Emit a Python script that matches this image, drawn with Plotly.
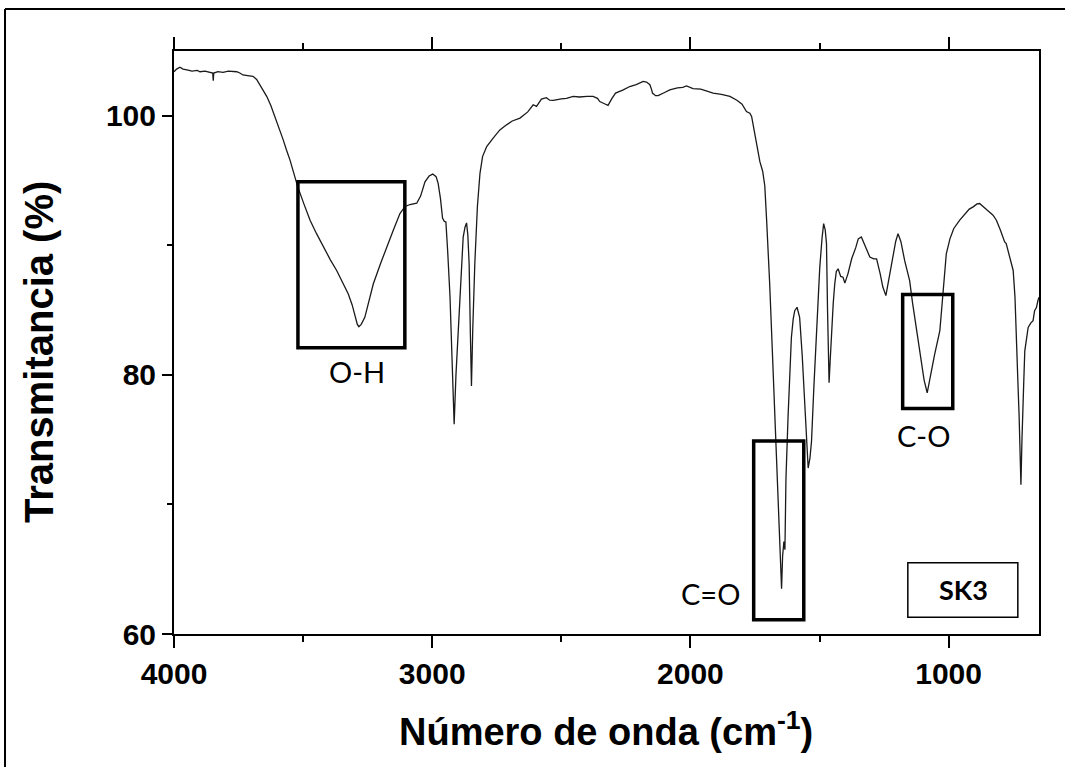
import plotly.graph_objects as go

# ---------------- data ----------------
wavenumber = [
    4000, 3990, 3977, 3965, 3950, 3930, 3910, 3899, 3880, 3860, 3850, 3848, 3846, 3830, 3810,
    3790, 3770, 3757, 3745, 3733, 3715, 3694, 3680, 3667, 3655, 3641, 3625, 3609, 3595, 3577,
    3565, 3551, 3535, 3521, 3497, 3473, 3448, 3422, 3395, 3370, 3345, 3325, 3310, 3299, 3290,
    3284, 3275, 3261, 3245, 3228, 3200, 3177, 3150, 3125, 3105, 3086, 3060, 3045, 3028, 3012,
    2998, 2985, 2977, 2968, 2960, 2953, 2947, 2940, 2931, 2922, 2915, 2908, 2899, 2890, 2880,
    2873, 2867, 2862, 2857, 2852, 2848, 2843, 2835, 2825, 2815, 2805, 2789, 2764, 2738, 2712,
    2690, 2660, 2630, 2609, 2596, 2577, 2565, 2558, 2545, 2531, 2500, 2480, 2454, 2430, 2400,
    2377, 2360, 2351, 2335, 2319, 2305, 2290, 2260, 2235, 2210, 2195, 2183, 2170, 2157, 2150,
    2147, 2135, 2125, 2100, 2080, 2050, 2030, 2015, 1990, 1960, 1938, 1912, 1880, 1847, 1820,
    1800, 1783, 1770, 1763, 1745, 1731, 1720, 1712, 1705, 1699, 1693, 1683, 1673, 1665, 1660,
    1655, 1650, 1647, 1643, 1638, 1634, 1630, 1622, 1615, 1609, 1602, 1596, 1587, 1577, 1567,
    1557, 1550, 1544, 1537, 1531, 1522, 1512, 1499, 1490, 1484, 1478, 1473, 1469, 1467, 1463,
    1459, 1454, 1447, 1441, 1435, 1428, 1418, 1409, 1402, 1390, 1375, 1360, 1350, 1338, 1325,
    1315, 1305, 1290, 1279, 1265, 1255, 1243, 1230, 1215, 1205, 1196, 1185, 1170, 1151, 1140,
    1125, 1105, 1095, 1083, 1070, 1055, 1034, 1020, 1009, 995, 980, 957, 935, 920, 905,
    890, 880, 865, 850, 828, 815, 800, 783, 777, 765, 750, 743, 737, 733, 731,
    727, 725, 720, 716, 714, 709, 705, 698, 692, 682, 673, 667, 660, 654, 650,
]
transmittance = [
    103.4, 103.6, 103.75, 103.6, 103.55, 103.45, 103.5, 103.4, 103.45, 103.35, 103.3, 102.7, 103.3, 103.4, 103.35,
    103.45, 103.4, 103.4, 103.3, 103.15, 103.1, 103.05, 102.8, 102.4, 102.0, 101.5, 100.8, 99.95, 99.1, 98.14,
    97.4, 96.6, 95.5, 94.53, 93.2, 91.94, 90.9, 89.87, 88.9, 88.06, 87.1, 86.25, 85.4, 84.44, 83.9,
    83.72, 83.9, 84.44, 85.6, 87.03, 88.6, 89.87, 91.2, 92.45, 93.0, 93.15, 93.25, 93.8, 94.9, 95.35,
    95.5, 95.3, 94.78, 93.6, 92.1, 91.85, 91.8, 89.5, 86.0, 80.5, 76.2, 80.0, 83.41, 87.5, 90.64,
    91.4, 91.73, 90.8, 88.58, 83.0, 79.15, 83.5, 88.58, 93.0, 95.56, 96.85, 97.62, 98.27, 98.91, 99.3,
    99.6, 99.82, 100.3, 100.85, 100.72, 101.29, 101.35, 101.4, 101.2, 101.19, 101.3, 101.35, 101.5, 101.45, 101.5,
    101.5, 101.35, 101.1, 100.95, 100.8, 101.3, 101.75, 102.0, 102.26, 102.4, 102.55, 102.66, 102.6, 102.4, 102.0,
    101.75, 101.55, 101.55, 101.8, 102.0, 102.15, 102.2, 102.3, 102.1, 102.05, 101.9, 101.75, 101.65, 101.5, 101.2,
    100.9, 100.33, 100.2, 99.95, 98.0, 96.46, 95.7, 94.6, 92.0, 89.87, 87.03, 82.0, 76.69, 72.0, 69.2,
    68.0, 65.0, 63.5, 66.0, 67.13, 66.5, 72.0, 76.69, 80.5, 82.89, 84.3, 84.96, 85.22, 84.44, 81.5,
    77.98, 74.5, 72.81, 73.6, 74.88, 79.0, 83.15, 88.32, 90.6, 91.68, 91.2, 90.13, 85.0, 81.86, 79.4,
    81.0, 83.15, 85.5, 87.03, 87.98, 88.19, 87.6, 87.54, 87.08, 87.8, 89.0, 89.8, 90.5, 90.64, 90.0,
    89.5, 89.09, 88.96, 88.96, 87.8, 86.8, 86.12, 87.5, 89.09, 90.3, 90.9, 90.3, 88.8, 87.28, 85.6,
    83.66, 81.0, 79.6, 78.62, 80.0, 81.5, 83.41, 86.8, 89.35, 90.5, 91.3, 91.94, 92.5, 92.8, 92.97,
    93.2, 93.23, 93.0, 92.7, 92.33, 91.94, 91.2, 90.26, 90.13, 89.3, 88.06, 86.0, 83.15, 80.5, 79.02,
    76.8, 75.4, 71.53, 75.0, 76.69, 79.5, 81.86, 83.0, 83.66, 84.0, 84.19, 84.96, 85.2, 85.74, 86.0,
]

x_tickvals = [4000, 3000, 2000, 1000]
x_ticktext = ["4000", "3000", "2000", "1000"]
x_minorvals = [3500, 2500, 1500]
y_tickvals = [60, 80, 100]
y_ticktext = ["60", "80", "100"]
y_minorvals = [70, 90]

# peak annotation boxes: (label, x0, x1, y0, y1) in data units
box_labels = ["O-H", "C=O", "C-O"]
box_x0 = [3520, 1755, 1178]
box_x1 = [3106, 1561, 984]
box_y0 = [82.1, 61.1, 77.4]
box_y1 = [94.9, 74.9, 86.2]
label_x = [3291, 1924, 1099]
label_y = [80.3, 63.1, 75.3]

sample_name = "SK3"
sample_box = [1158, 732, 61.3, 65.5]
sample_pos = [944, 63.4]

# ---------------- figure ----------------
W, H = 1065, 767
ML, MR, MT, MB = 174, 26, 51, 133
PW, PH = W - ML - MR, H - MT - MB

def px2paper_x(px):
    return (px - ML) / PW

def px2paper_y(py):
    return (H - MB - py) / PH

axis_font = dict(family="Liberation Sans, Arial", size=30, color="black", weight="bold")

fig = go.Figure()
fig.add_trace(go.Scatter(
    x=wavenumber, y=transmittance, mode="lines",
    line=dict(color="#1a1a1a", width=1.3), showlegend=False, hoverinfo="skip",
))

fig.update_layout(
    width=W, height=H,
    margin=dict(l=ML, r=MR, t=MT, b=MB, pad=0),
    paper_bgcolor="white", plot_bgcolor="white",
    showlegend=False,
)

fig.update_xaxes(
    range=[4000, 650], tickmode="array", tickvals=x_tickvals, ticktext=x_ticktext,
    showline=True, linewidth=2, linecolor="black", mirror="ticks",
    ticks="outside", ticklen=12, tickwidth=2, tickcolor="black",
    minor=dict(tickmode="array", tickvals=x_minorvals, ticks="outside",
               ticklen=6, tickwidth=2, tickcolor="black", showgrid=False),
    showgrid=False, zeroline=False, tickfont=axis_font,
)
fig.update_yaxes(
    range=[60, 105], tickmode="array", tickvals=y_tickvals, ticktext=y_ticktext,
    showline=True, linewidth=2, linecolor="black", mirror=True,
    ticks="outside", ticklen=10, tickwidth=2, tickcolor="black",
    minor=dict(tickmode="array", tickvals=y_minorvals, ticks="outside",
               ticklen=5, tickwidth=2, tickcolor="black", showgrid=False),
    showgrid=False, zeroline=False, tickfont=axis_font,
)

label_font = dict(family="Lato, Carlito, Calibri, sans-serif", size=29, color="black")

for lab, x0, x1, y0, y1, lx, ly in zip(box_labels, box_x0, box_x1, box_y0, box_y1, label_x, label_y):
    fig.add_shape(type="rect", xref="x", yref="y", x0=x0, x1=x1, y0=y0, y1=y1,
                  line=dict(color="black", width=3.5), fillcolor="rgba(0,0,0,0)")
    fig.add_annotation(x=lx, y=ly, xref="x", yref="y", text=lab, showarrow=False,
                       font=label_font, xanchor="center", yanchor="middle")

fig.add_shape(type="rect", xref="x", yref="y", x0=sample_box[0], x1=sample_box[1],
              y0=sample_box[2], y1=sample_box[3], line=dict(color="black", width=1.5))
fig.add_annotation(x=sample_pos[0], y=sample_pos[1], xref="x", yref="y", text=sample_name,
                   showarrow=False, font=dict(family="Lato, Carlito, sans-serif", size=27,
                                              color="black", weight="bold"))

# axis titles
title_font = dict(family="Liberation Sans, Arial", size=38, color="black", weight="bold")
fig.add_annotation(xref="paper", yref="paper", x=px2paper_x(606), y=px2paper_y(729),
                   text="Número de onda (cm<sup>-1</sup>)", showarrow=False,
                   font=title_font, xanchor="center", yanchor="middle")
fig.add_annotation(xref="paper", yref="paper", x=px2paper_x(39), y=px2paper_y(352),
                   text="Transmitancia (%)", showarrow=False, textangle=-90,
                   font=dict(family="Liberation Sans, Arial", size=40, color="black", weight="bold"),
                   xanchor="center", yanchor="middle")

# outer frame lines (top and left) of the original picture
fig.add_shape(type="line", xref="paper", yref="paper",
              x0=px2paper_x(5), x1=px2paper_x(1070), y0=px2paper_y(9), y1=px2paper_y(9),
              line=dict(color="black", width=2))
fig.add_shape(type="line", xref="paper", yref="paper",
              x0=px2paper_x(5), x1=px2paper_x(5), y0=px2paper_y(9), y1=px2paper_y(775),
              line=dict(color="black", width=2))

fig.write_html("out.html")
